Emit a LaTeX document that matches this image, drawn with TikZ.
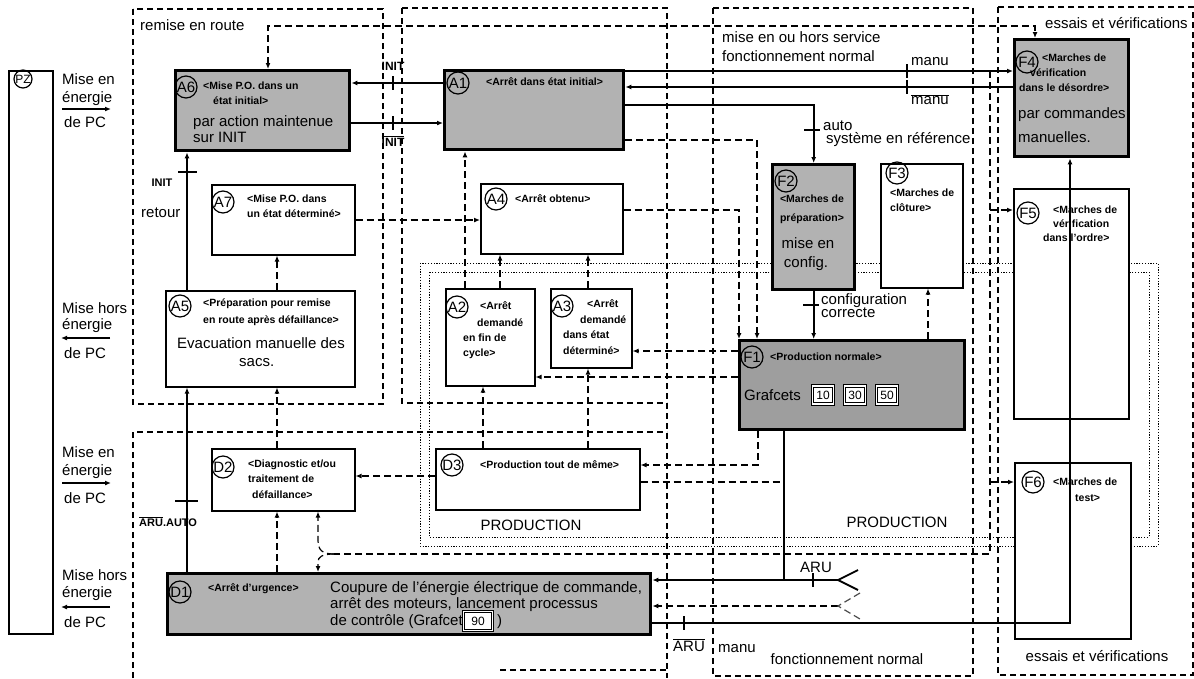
\documentclass[tikz,border=0pt]{standalone}
\usepackage{fontspec}
\setmainfont{Liberation Sans}
\usetikzlibrary{arrows.meta,calc}
\begin{document}
\begin{tikzpicture}[x=1pt,y=-1pt,
  region/.style={draw, line width=1.1pt, dash pattern=on 6pt off 4pt},
  thinbox/.style={draw, line width=1.5pt, fill=white, inner sep=0pt, anchor=north west},
  thickbox/.style={draw, line width=3.4pt, fill=black!30, inner sep=0pt, anchor=north west},
  circ/.style={circle, draw, line width=1.2pt, inner sep=0pt, minimum size=22pt, font=\fontsize{15}{15}\selectfont},
  bigtxt/.style={inner sep=0pt, font=\fontsize{15}{15}\selectfont, text height=10.8pt, text depth=0pt},
  sm/.style={inner sep=0pt, font=\bfseries\fontsize{10.5}{12}\selectfont, text height=7.6pt, text depth=0pt},
  lblb/.style={inner sep=0pt, font=\bfseries\fontsize{12}{12}\selectfont, text height=8.6pt, text depth=0pt},
  conn/.style={line width=1.8pt},
  dconn/.style={line width=1.2pt, dash pattern=on 7pt off 4pt},
  arr/.style={-{Latex[length=6pt,width=5pt]}},
  dotl/.style={line width=1pt, dash pattern=on 1.2pt off 1.6pt},
  tickmark/.style={line width=1.4pt},
  gbox/.style={draw, line width=0.9pt, double, double distance=1.5pt, fill=white, inner sep=1pt, minimum width=21pt, minimum height=18pt, font=\fontsize{12}{12}\selectfont},
]
\fill[white] (0,0) rectangle (1194,678);
\useasboundingbox (0,0) rectangle (1194,678);

% PRODUCTION dotted double frame
\draw[dotl] (420,263) rectangle (1158,546);
\draw[dotl] (429,272) rectangle (1149,537);

% regions
\draw[region] (133,9) rectangle (383,404);
\draw[region] (402,8) -- (402,403) -- (667,403);
\draw[region] (402,8) -- (667,8) -- (667,678);
\draw[region] (133,678) -- (133,432) -- (667,432);
\draw[region] (500,670) -- (667,670);
\draw[region] (713,8) rectangle (973,676);
\draw[region] (998,7) rectangle (1193,675);

\node[bigtxt, anchor=west] (Lrr) at (140,25) {remise en route};
\node[bigtxt, anchor=west] (Lms1) at (722,37) {mise en ou hors service};
\node[bigtxt, anchor=west] (Lms2) at (722,56) {fonctionnement normal};
\node[bigtxt] (Lfn) at (847,659) {fonctionnement normal};
\node[bigtxt, anchor=west] (Lev1) at (1045,23) {essais et vérifications};
\node[bigtxt] (Lev2) at (1097,656) {essais et vérifications};
\node[bigtxt] (Lp1) at (531,525) {PRODUCTION};
\node[bigtxt] (Lp2) at (897,522) {PRODUCTION};

% PZ column
\node[thinbox, minimum width=44pt, minimum height=563pt] (PZ) at (8,70) {};
\node[circ, minimum size=18pt, font=\fontsize{12}{12}\selectfont] (cPZ) at (23,79) {PZ};

\node[bigtxt, anchor=west] (e1a) at (62,79) {Mise en};
\node[bigtxt, anchor=west] (e1b) at (62,97) {énergie};
\node[bigtxt, anchor=west] (e1c) at (64,122) {de PC};
\coordinate (e1s) at (62,109); \coordinate (e1e) at (111,109);
\draw[conn,arr] (e1s) -- (e1e);

\node[bigtxt, anchor=west] (e2a) at (62,308) {Mise hors};
\node[bigtxt, anchor=west] (e2b) at (62,324) {énergie};
\node[bigtxt, anchor=west] (e2c) at (64,353) {de PC};
\coordinate (e2s) at (110,338); \coordinate (e2e) at (61,338);
\draw[conn,arr] (e2s) -- (e2e);

\node[bigtxt, anchor=west] (e3a) at (62,452) {Mise en};
\node[bigtxt, anchor=west] (e3b) at (62,470) {énergie};
\node[bigtxt, anchor=west] (e3c) at (64,498) {de PC};
\coordinate (e3s) at (62,483); \coordinate (e3e) at (111,483);
\draw[conn,arr] (e3s) -- (e3e);

\node[bigtxt, anchor=west] (e4a) at (62,575) {Mise hors};
\node[bigtxt, anchor=west] (e4b) at (62,592) {énergie};
\node[bigtxt, anchor=west] (e4c) at (64,622) {de PC};
\coordinate (e4s) at (110,607); \coordinate (e4e) at (61,607);
\draw[conn,arr] (e4s) -- (e4e);

% ===== boxes =====
\node[thickbox, minimum width=174pt, minimum height=80pt] (A6) at (174,69) {};
\node[thickbox, minimum width=179pt, minimum height=79pt] (A1) at (443,69) {};
\node[thinbox, minimum width=143pt, minimum height=70pt] (A7) at (211,184) {};
\node[thinbox, minimum width=142pt, minimum height=70pt] (A4) at (480,183) {};
\node[thinbox, minimum width=189pt, minimum height=96pt] (A5) at (165,290) {};
\node[thinbox, minimum width=89pt, minimum height=97pt] (A2) at (445,288) {};
\node[thinbox, minimum width=81pt, minimum height=79pt] (A3) at (550,288) {};
\node[thickbox, minimum width=82pt, minimum height=125pt] (F2) at (771,163) {};
\node[thinbox, minimum width=82pt, minimum height=124pt] (F3) at (880,163) {};
\node[thickbox, minimum width=114pt, minimum height=117pt] (F4) at (1013,38) {};
\node[thinbox, minimum width=115pt, minimum height=230pt] (F5) at (1013,188) {};
\node[thickbox, fill=black!38, minimum width=225pt, minimum height=89pt] (F1) at (738,339) {};
\node[thinbox, minimum width=143pt, minimum height=62pt] (D2) at (211,448) {};
\node[thinbox, minimum width=204pt, minimum height=61pt] (D3) at (435,448) {};
\node[thinbox, minimum width=116pt, minimum height=176pt] (F6) at (1014,462) {};
\node[thickbox, minimum width=483pt, minimum height=61pt] (D1) at (166,572) {};

% circles
\node[circ] (cA6) at (186,87) {A6};
\node[circ] (cA1) at (458,83) {A1};
\node[circ] (cA7) at (223,202) {A7};
\node[circ] (cA4) at (496,199) {A4};
\node[circ] (cA5) at (180,306) {A5};
\node[circ] (cA2) at (457,307) {A2};
\node[circ] (cA3) at (562,306) {A3};
\node[circ] (cF2) at (786,181) {F2};
\node[circ] (cF3) at (897,173) {F3};
\node[circ] (cF4) at (1027,62) {F4};
\node[circ] (cF5) at (1028,213) {F5};
\node[circ] (cF1) at (752,357) {F1};
\node[circ] (cD2) at (223,467) {D2};
\node[circ] (cD3) at (452,465) {D3};
\node[circ] (cF6) at (1033,482) {F6};
\node[circ] (cD1) at (180,592) {D1};

% texts in boxes
\node[sm, anchor=west] (tA6a) at (203,86) {<Mise P.O. dans un};
\node[sm, anchor=west] (tA6b) at (213,101) {état initial>};
\node[bigtxt, anchor=west] (tA6c) at (193,121) {par action maintenue};
\node[bigtxt, anchor=west] (tA6d) at (193,137) {sur INIT};

\node[sm, anchor=west] (tA1) at (486,82) {<Arrêt dans état initial>};

\node[sm, anchor=west] (tA7a) at (247,199) {<Mise P.O. dans};
\node[sm, anchor=west] (tA7b) at (247,214) {un état déterminé>};

\node[sm, anchor=west] (tA4) at (515,199) {<Arrêt obtenu>};

\node[sm, anchor=west] (tA5a) at (203,303) {<Préparation pour remise};
\node[sm, anchor=west] (tA5b) at (203,320) {en route après défaillance>};
\node[bigtxt, anchor=west] (tA5c) at (177,343) {Evacuation manuelle des};
\node[bigtxt, anchor=west] (tA5d) at (239,361) {sacs.};

\node[sm, anchor=west] (tA2a) at (480,306) {<Arrêt};
\node[sm, anchor=west] (tA2b) at (477,323) {demandé};
\node[sm, anchor=west] (tA2c) at (463,338) {en fin de};
\node[sm, anchor=west] (tA2d) at (463,353) {cycle>};

\node[sm, anchor=west] (tA3a) at (587,304) {<Arrêt};
\node[sm, anchor=west] (tA3b) at (580,320) {demandé};
\node[sm, anchor=west] (tA3c) at (563,335) {dans état};
\node[sm, anchor=west] (tA3d) at (563,351) {déterminé>};

\node[sm] (tF2a) at (812,199) {<Marches de};
\node[sm] (tF2b) at (812,218) {préparation>};
\node[bigtxt] (tF2c) at (808,243) {mise en};
\node[bigtxt] (tF2d) at (806,262) {config.};

\node[sm, anchor=west] (tF3a) at (890,193) {<Marches de};
\node[sm, anchor=west] (tF3b) at (890,208) {clôture>};

\node[sm, anchor=west] (tF4a) at (1042,58) {<Marches de};
\node[sm, anchor=west] (tF4b) at (1030,73) {vérification};
\node[sm, anchor=west] (tF4c) at (1019,88) {dans le désordre>};
\node[bigtxt, anchor=west] (tF4d) at (1018,113) {par commandes};
\node[bigtxt, anchor=west] (tF4e) at (1018,137) {manuelles.};

\node[sm, anchor=west] (tF5a) at (1053,210) {<Marches de};
\node[sm, anchor=west] (tF5b) at (1053,224) {vérification};
\node[sm, anchor=west] (tF5c) at (1043,238) {dans l'ordre>};

\node[sm, anchor=west] (tF6a) at (1053,482) {<Marches de};
\node[sm, anchor=west] (tF6b) at (1075,498) {test>};

\node[sm, anchor=west] (tF1a) at (770,357) {<Production normale>};
\node[bigtxt, anchor=west] (tF1b) at (744,395) {Grafcets};
\node[gbox] (g10) at (823,395) {10};
\node[gbox] (g30) at (855,395) {30};
\node[gbox] (g50) at (887,395) {50};

\node[sm, anchor=west] (tD2a) at (248,464) {<Diagnostic et/ou};
\node[sm, anchor=west] (tD2b) at (248,479) {traitement de};
\node[sm, anchor=west] (tD2c) at (252,495) {défaillance>};

\node[sm, anchor=west] (tD3) at (480,465) {<Production tout de même>};

\node[sm, anchor=west] (tD1a) at (208,588) {<Arrêt d'urgence>};
\node[bigtxt, anchor=west] (tD1b) at (330,587) {Coupure de l'énergie électrique de commande,};
\node[bigtxt, anchor=west] (tD1c) at (330,603) {arrêt des moteurs, lancement processus};
\node[bigtxt, anchor=west] (tD1d) at (330,620) {de contrôle (Grafcet};
\node[gbox, minimum width=29pt, minimum height=19pt] (g90) at (478,621) {90};
\node[bigtxt, anchor=west] (tD1e) at (497,620) {)};

% ===== solid connectors =====
\draw[conn,arr] (A1.west |- 0,83) -- (A6.east |- 0,83);
\draw[tickmark] (393,76) -- (393,90);
\node[lblb] (lINIT1) at (393,66) {INIT};
\draw[conn,arr] (A6.east |- 0,123) -- (A1.west |- 0,123);
\draw[tickmark] (393,116) -- (393,130);
\node[lblb] (lINIT2) at (393,142) {$\overline{\hbox{INIT}}$};

\draw[conn,arr] (A1.east |- 0,71) -- (F4.west |- 0,71);
\draw[tickmark] (907,64) -- (907,78);
\node[bigtxt] (lmanu1) at (930,60) {manu};
\draw[conn,arr] (F4.west |- 0,87) -- (A1.east |- 0,87);
\draw[tickmark] (907,80) -- (907,94);
\node[bigtxt] (lmanu2) at (930,99) {$\overline{\hbox{manu}}$};

\draw[conn,arr] (A1.east |- 0,105) -| (F2.north);
\draw[tickmark] (804,130) -- (820,130);
\node[bigtxt, anchor=west] (lauto) at (823,125) {auto};
\node[bigtxt, anchor=west] (lsys) at (826,138) {système en référence};

\draw[conn,arr] (F2.south) -- (F2.south |- F1.north);
\draw[tickmark] (803,305) -- (819,305);
\node[bigtxt, anchor=west] (lconf1) at (821,299) {configuration};
\node[bigtxt, anchor=west] (lconf2) at (821,312) {correcte};

\draw[conn,arr] (187,0 |- A5.north) -- (187,0 |- A6.south);
\draw[tickmark] (178,172) -- (197,172);
\node[lblb, font=\bfseries\fontsize{11}{11}\selectfont] (lINIT3) at (162,182) {INIT};
\node[bigtxt, anchor=west] (lret) at (141,212) {retour};

\draw[conn,arr] (187,0 |- D1.north) -- (187,0 |- A5.south);
\draw[tickmark] (175,501) -- (198,501);
\node[lblb, anchor=west, font=\bfseries\fontsize{11}{11}\selectfont] (laru1) at (139,522) {$\overline{\hbox{ARU}}$.AUTO};

\draw[conn,arr] (D1.east |- 0,623) -| (1070,0 |- F4.south);
\draw[tickmark] (684,616) -- (684,630);
\node[bigtxt, anchor=west] (laru2) at (673,646) {$\overline{\hbox{ARU}}$};
\node[bigtxt, anchor=west] (lmanu3) at (718,647) {manu};

\coordinate (fork1) at (838,580);
\draw[conn,arr] (fork1) -- (D1.east |- fork1);
\draw[conn] (858,570) -- (fork1) -- (858,590);
\draw[tickmark] (813,573) -- (813,587);
\node[bigtxt] (laru3) at (816,567) {ARU};
\coordinate (jF1) at (784,580);
\draw[conn] (784,0 |- F1.south) -- (jF1);

% ===== dashed connectors =====
\draw[dconn,arr] (277,0 |- D1.north) -- (277,0 |- D2.south);
\draw[dconn,arr] (277,0 |- D2.north) -- (277,0 |- A5.south);
\draw[dconn,arr] (277,0 |- A5.north) -- (277,0 |- A7.south);
\draw[dconn,arr] (A7.east |- 0,220) -- (A4.west |- 0,220);
\draw[dconn,arr] (465,0 |- A2.north) -- (465,0 |- A1.south);
\draw[dconn,arr] (500,0 |- A2.north) -- (500,0 |- A4.south);
\draw[dconn,arr] (588,0 |- A3.north) -- (588,0 |- A4.south);
\draw[dconn,arr] (A1.east |- 0,140) -| (757,0 |- F1.north);
\draw[dconn,arr] (A4.east |- 0,210) -| (739,0 |- F1.north);
\draw[dconn,arr] (F1.west |- 0,351) -- (A3.east |- 0,351);
\draw[dconn,arr] (F1.west |- 0,377) -- (A2.east |- 0,377);
\draw[dconn,arr] (928,0 |- F1.north) -- (928,0 |- F3.south);
\draw[dconn,arr] (758,0 |- F1.south) |- (D3.east |- 0,465);
\draw[dconn] (D3.east |- 0,482) -- (784,482);
\draw[dconn,arr] (D3.west |- 0,476) -- (D2.east |- 0,476);
\draw[dconn,arr] (483,0 |- D3.north) -- (483,0 |- A2.south);
\draw[dconn,arr] (588,0 |- D3.north) -- (588,0 |- A3.south);
\coordinate (fork2) at (838,606);
\draw[dconn,arr] (fork2) -- (D1.east |- fork2);
\draw[dconn, black!70] (860,593) -- (fork2) -- (860,619);
\draw[dconn,{Latex[length=6pt,width=5pt]}-{Latex[length=6pt,width=5pt]}] (268,0 |- A6.north) -- (268,26) -- (1035,26) -- (1035,0 |- F4.north);
\coordinate (bus0) at (990,71);
\coordinate (bus1) at (334,554);
\draw[dconn] (bus0) -- (990,554) -- (bus1);
\draw[dconn,arr] (990,210) -- (F5.west |- 0,210);
\draw[dconn,arr] (990,482) -- (F6.west |- 0,482);
\draw[dconn,arr] (bus1) .. controls (322,554) and (318,550) .. (318,540) -- (318,0 |- D2.south);
\draw[dconn,arr] (bus1) .. controls (322,554) and (318,557) .. (318,562) -- (318,0 |- D1.north);
\end{tikzpicture}
\end{document}
